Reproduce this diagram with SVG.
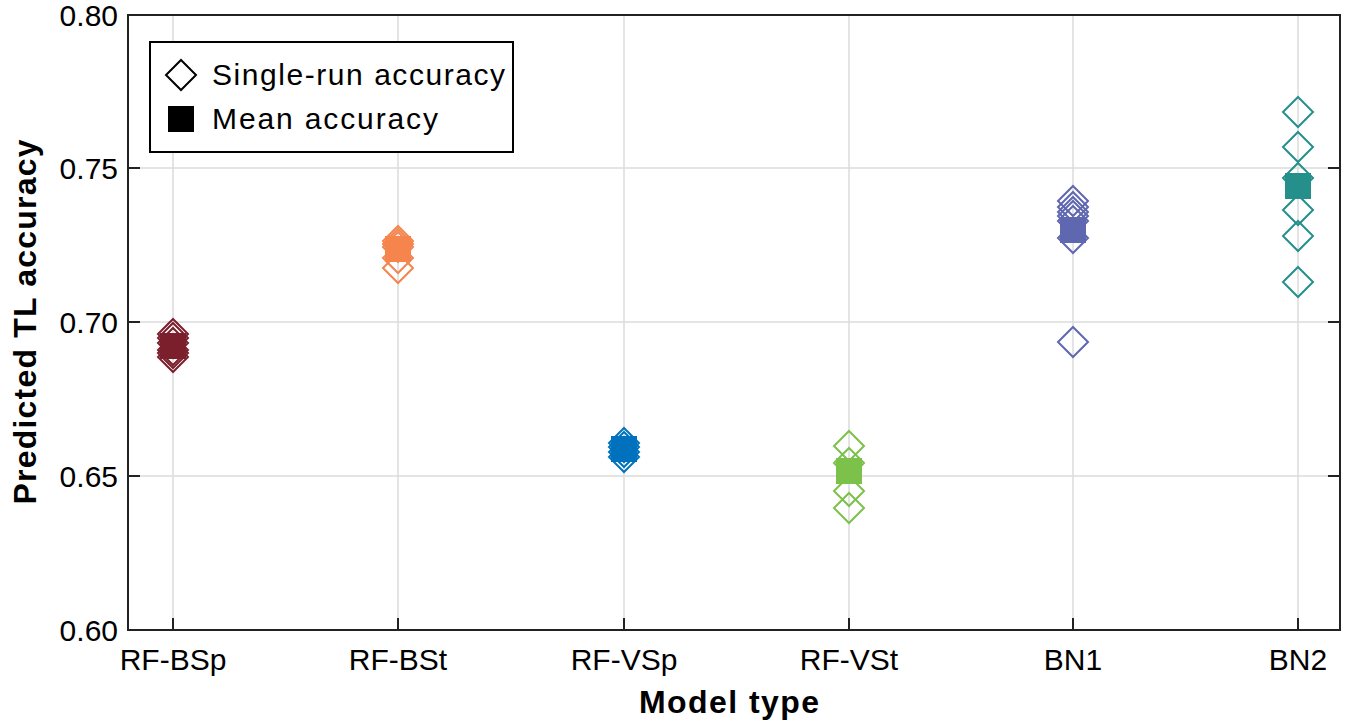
<svg xmlns="http://www.w3.org/2000/svg" width="1351" height="721" viewBox="0 0 1351 721">
<style>
text{font-family:"Liberation Sans",Arial,sans-serif;fill:#000}
.t{font-size:30px}
.b{font-size:32px;font-weight:bold}
.g{stroke:#dcdcdc;stroke-width:1.5}
.d{fill:none;stroke-width:2}
</style>
<defs>
<path id="dm" d="M0,-15L15,0L0,15L-15,0Z"/>
<rect id="sq" x="-13" y="-13" width="26" height="26"/>
</defs>
<rect width="1351" height="721" fill="#fff"/>
<g id="grid">
<path class="g" d="M173,15V630M398,15V630M624,15V630M849,15V630M1073,15V630M1298,15V630M128,168H1340M128,322H1340M128,476H1340"/>
</g>
<g id="axes" stroke="#222" stroke-width="2" fill="none">
<rect x="128" y="15" width="1212" height="615"/>
<path d="M128,168h12M128,322h12M128,476h12M1340,168h-12M1340,322h-12M1340,476h-12M173,630v-12M398,630v-12M624,630v-12M849,630v-12M1073,630v-12M1298,630v-12"/>
</g>
<g id="yticks" class="t" text-anchor="end">
<text x="118" y="26">0.80</text><text x="118" y="179">0.75</text><text x="118" y="333">0.70</text><text x="118" y="487">0.65</text><text x="118" y="641">0.60</text>
</g>
<g id="xticks" class="t" text-anchor="middle">
<text x="173" y="670">RF-BSp</text><text x="398" y="670">RF-BSt</text><text x="624" y="670">RF-VSp</text><text x="849" y="670">RF-VSt</text><text x="1073" y="670">BN1</text><text x="1298" y="670">BN2</text>
</g>
<text class="b" x="729" y="713" text-anchor="middle" textLength="180">Model type</text>
<text class="b" transform="translate(36,322) rotate(-90)" text-anchor="middle" textLength="365">Predicted TL accuracy</text>
<g id="RF-BSp" stroke="#7b1f2d" fill="#7b1f2d">
<use href="#dm" class="d" x="173" y="334"/><use href="#dm" class="d" x="173" y="338"/><use href="#dm" class="d" x="173" y="343"/><use href="#dm" class="d" x="173" y="350"/><use href="#dm" class="d" x="173" y="353"/><use href="#dm" class="d" x="173" y="357"/>
<use href="#sq" x="173" y="346" stroke="none"/>
</g>
<g id="RF-BSt" stroke="#f5854d" fill="#f5854d">
<use href="#dm" class="d" x="398" y="241"/><use href="#dm" class="d" x="398" y="244"/><use href="#dm" class="d" x="398" y="247"/><use href="#dm" class="d" x="398" y="258"/><use href="#dm" class="d" x="398" y="268"/>
<use href="#sq" x="398" y="249" stroke="none"/>
</g>
<g id="RF-VSp" stroke="#0072bd" fill="#0072bd">
<use href="#dm" class="d" x="624" y="443"/><use href="#dm" class="d" x="624" y="447"/><use href="#dm" class="d" x="624" y="452"/><use href="#dm" class="d" x="624" y="457"/>
<use href="#sq" x="624" y="449" stroke="none"/>
</g>
<g id="RF-VSt" stroke="#7cc14a" fill="#7cc14a">
<use href="#dm" class="d" x="849" y="446"/><use href="#dm" class="d" x="849" y="463"/><use href="#dm" class="d" x="849" y="491"/><use href="#dm" class="d" x="849" y="508"/>
<use href="#sq" x="849" y="471" stroke="none"/>
</g>
<g id="BN1" stroke="#5f67b0" fill="#5f67b0">
<use href="#dm" class="d" x="1073" y="201"/><use href="#dm" class="d" x="1073" y="207"/><use href="#dm" class="d" x="1073" y="212"/><use href="#dm" class="d" x="1073" y="216"/><use href="#dm" class="d" x="1073" y="221"/><use href="#dm" class="d" x="1073" y="238"/><use href="#dm" class="d" x="1073" y="342"/>
<use href="#sq" x="1073" y="230" stroke="none"/>
</g>
<g id="BN2" stroke="#258f8c" fill="#258f8c">
<use href="#dm" class="d" x="1298" y="112"/><use href="#dm" class="d" x="1298" y="147"/><use href="#dm" class="d" x="1298" y="178"/><use href="#dm" class="d" x="1298" y="210"/><use href="#dm" class="d" x="1298" y="236"/><use href="#dm" class="d" x="1298" y="282"/>
<use href="#sq" x="1298" y="186" stroke="none"/>
</g>
<g id="legend">
<rect x="150" y="42" width="363" height="110" fill="#fff" stroke="#000" stroke-width="2"/>
<use href="#dm" class="d" x="181" y="75" stroke="#000"/>
<use href="#sq" x="181" y="119" fill="#000"/>
<text class="t" x="212" y="85" textLength="293">Single-run accuracy</text>
<text class="t" x="212" y="129" textLength="226">Mean accuracy</text>
</g>
</svg>
